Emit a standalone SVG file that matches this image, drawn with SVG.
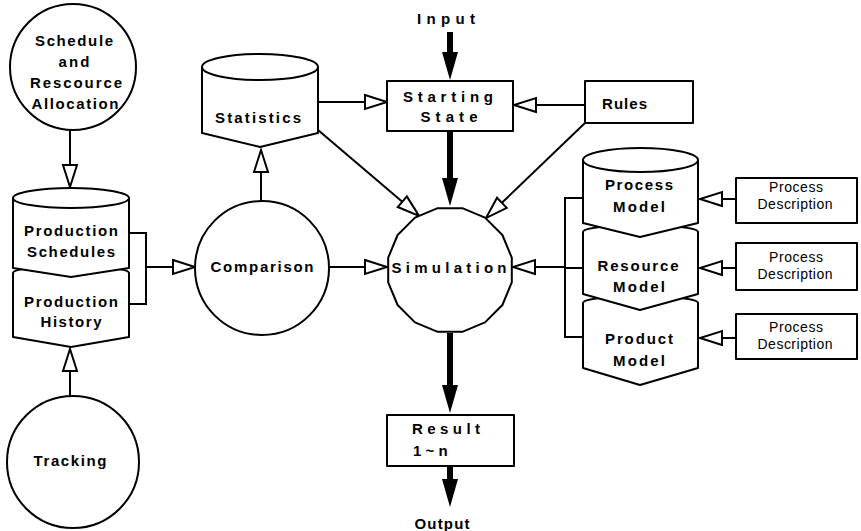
<svg xmlns="http://www.w3.org/2000/svg" width="861" height="531" viewBox="0 0 861 531">
  <style>
    .shape { fill: #fff; stroke: #000; stroke-width: 2; stroke-linejoin: round; }
    .lbl { font-family: "Liberation Sans", Arial, sans-serif; font-weight: bold; font-size: 15px; fill: #000; text-anchor: middle; }
    .lbl-l { font-family: "Liberation Sans", Arial, sans-serif; font-weight: bold; font-size: 15px; fill: #000; text-anchor: start; }
    .desc { font-family: "Liberation Sans", Arial, sans-serif; font-size: 14px; fill: #000; text-anchor: middle; }
    .thin { fill: none; stroke: #000; stroke-width: 2; }
    .open { fill: none; stroke: #000; stroke-width: 2; marker-end: url(#hollow); }
    .bold { fill: none; stroke: #000; stroke-width: 6; marker-end: url(#solid); }
  </style>
  <defs>
    <marker id="hollow" markerUnits="userSpaceOnUse" markerWidth="26" markerHeight="18" viewBox="0 0 26 18" refX="1" refY="9" orient="auto" overflow="visible">
      <path d="M1,2 L23,9 L1,16 Z" fill="#fff" stroke="#000" stroke-width="2" stroke-linejoin="miter"/>
    </marker>
    <marker id="solid" markerUnits="userSpaceOnUse" markerWidth="30" markerHeight="18" viewBox="0 0 30 18" refX="1" refY="9" orient="auto" overflow="visible">
      <path d="M0,1 L28,9 L0,17 Z" fill="#000"/>
    </marker>
  </defs>

  <!-- connectors -->
  <g id="connectors">
    <line class="open" x1="70" y1="130" x2="70" y2="165"/>
    <line class="open" x1="70" y1="396" x2="70" y2="371"/>
    <polyline class="thin" points="129,233 146,233 146,304 129,304"/>
    <line class="open" x1="146" y1="267" x2="173" y2="267"/>
    <line class="open" x1="261" y1="201" x2="261" y2="172"/>
    <line class="open" x1="318" y1="102" x2="365" y2="102"/>
    <line class="open" x1="585" y1="105" x2="536" y2="105"/>
    <line class="open" x1="318" y1="130" x2="402.3" y2="201.7"/>
    <line class="open" x1="585" y1="123" x2="501.9" y2="202.8"/>
    <line class="open" x1="329" y1="267" x2="365" y2="267"/>
    <polyline class="thin" points="583,198 565,198 565,337 583,337"/>
    <line class="thin" x1="565" y1="268" x2="583" y2="268"/>
    <line class="open" x1="565" y1="267" x2="535" y2="267"/>
    <line class="open" x1="736" y1="199" x2="722" y2="199"/>
    <line class="open" x1="736" y1="268" x2="722" y2="268"/>
    <line class="open" x1="736" y1="338" x2="722" y2="338"/>
    <line class="bold" x1="450" y1="32" x2="450" y2="53"/>
    <line class="bold" x1="450" y1="131" x2="450" y2="179"/>
    <line class="bold" x1="450" y1="333" x2="450" y2="386"/>
    <line class="bold" x1="450" y1="466" x2="450" y2="480"/>
  </g>

  <!-- process: schedule and resource allocation -->
  <g id="schedule-allocation">
    <circle class="shape" cx="73" cy="67" r="63"/>
    <text class="lbl" x="74" y="46" textLength="78">Schedule</text>
    <text class="lbl" x="74" y="67" textLength="31">and</text>
    <text class="lbl" x="76" y="88" textLength="92">Rescource</text>
    <text class="lbl" x="75" y="109" textLength="87">Allocation</text>
  </g>

  <!-- store: production history (drawn first, sits under schedules) -->
  <g id="production-history">
    <path class="shape" d="M13,273 A58,7 0 0 1 129,273 L129,337 L71,347 L13,337 Z"/>
    <text class="lbl" x="71" y="307" textLength="94">Production</text>
    <text class="lbl" x="71" y="327" textLength="61">History</text>
  </g>

  <!-- store: production schedules -->
  <g id="production-schedules">
    <path class="shape" d="M13,198 A58,10 0 0 1 129,198 L129,268 L71,277 L13,268 Z"/>
    <path class="thin" d="M13,198 A58,10 0 0 0 129,198"/>
    <text class="lbl" x="71" y="236" textLength="94">Production</text>
    <text class="lbl" x="71" y="257" textLength="88">Schedules</text>
  </g>

  <!-- process: tracking -->
  <g id="tracking">
    <circle class="shape" cx="73" cy="462" r="66"/>
    <text class="lbl" x="70" y="466" textLength="73">Tracking</text>
  </g>

  <!-- process: comparison -->
  <g id="comparison">
    <circle class="shape" cx="262" cy="268" r="67"/>
    <text class="lbl" x="262" y="272" textLength="103">Comparison</text>
  </g>

  <!-- store: statistics -->
  <g id="statistics">
    <path class="shape" d="M202,67 A58,13 0 0 1 318,67 L318,133 L260,147 L202,133 Z"/>
    <path class="thin" d="M202,67 A58,13 0 0 0 318,67"/>
    <text class="lbl" x="258" y="123" textLength="86">Statistics</text>
  </g>

  <!-- input label -->
  <g id="input">
    <text class="lbl" x="446" y="24" textLength="58">Input</text>
  </g>

  <!-- starting state -->
  <g id="starting-state">
    <rect class="shape" x="387" y="81" width="126" height="50"/>
    <text class="lbl" x="448" y="102" textLength="90">Starting</text>
    <text class="lbl" x="449" y="122" textLength="57">State</text>
  </g>

  <!-- rules -->
  <g id="rules">
    <rect class="shape" x="585" y="81" width="108" height="42"/>
    <text class="lbl-l" x="602" y="109" textLength="45">Rules</text>
  </g>

  <!-- process: simulation -->
  <g id="simulation">
    <polygon class="shape" points="511.8,282.3 502.4,305 485,322.4 462.3,331.8 437.7,331.8 415,322.4 397.6,305 388.2,282.3 388.2,257.7 397.6,235 415,217.6 437.7,208.2 462.3,208.2 485,217.6 502.4,235 511.8,257.7"/>
    <text class="lbl" x="449" y="273" textLength="115">Simulation</text>
  </g>

  <!-- store: product model (bottom of stack) -->
  <g id="product-model">
    <path class="shape" d="M583,303 A57.5,7 0 0 1 698,303 L698,368 L640,385 L583,368 Z"/>
    <text class="lbl" x="639" y="344" textLength="68">Product</text>
    <text class="lbl" x="639" y="366" textLength="52">Model</text>
  </g>

  <!-- store: resource model -->
  <g id="resource-model">
    <path class="shape" d="M583,232 A57.5,7 0 0 1 698,232 L698,294 L640,310 L583,294 Z"/>
    <text class="lbl" x="638" y="271" textLength="81">Resource</text>
    <text class="lbl" x="639" y="292" textLength="52">Model</text>
  </g>

  <!-- store: process model -->
  <g id="process-model">
    <path class="shape" d="M583,160 A57.5,12 0 0 1 698,160 L698,223 L640,237 L583,223 Z"/>
    <path class="thin" d="M583,160 A57.5,12 0 0 0 698,160"/>
    <text class="lbl" x="639" y="190" textLength="68">Process</text>
    <text class="lbl" x="639" y="212" textLength="52">Model</text>
  </g>

  <!-- process descriptions -->
  <g id="process-description-1">
    <rect class="shape" x="736" y="178" width="121" height="45"/>
    <text class="desc" x="796" y="192" textLength="54">Process</text>
    <text class="desc" x="795" y="209" textLength="75">Description</text>
  </g>
  <g id="process-description-2">
    <rect class="shape" x="736" y="243" width="121" height="47"/>
    <text class="desc" x="796" y="262" textLength="54">Process</text>
    <text class="desc" x="795" y="279" textLength="75">Description</text>
  </g>
  <g id="process-description-3">
    <rect class="shape" x="736" y="314" width="121" height="45"/>
    <text class="desc" x="796" y="332" textLength="54">Process</text>
    <text class="desc" x="795" y="349" textLength="75">Description</text>
  </g>

  <!-- result -->
  <g id="result">
    <rect class="shape" x="387" y="415" width="127" height="51"/>
    <text class="lbl-l" x="412" y="434" textLength="68">Result</text>
    <text class="lbl-l" x="413" y="456">1 ~ n</text>
  </g>

  <!-- output label -->
  <g id="output">
    <text class="lbl" x="442" y="529" textLength="55">Output</text>
  </g>
</svg>
